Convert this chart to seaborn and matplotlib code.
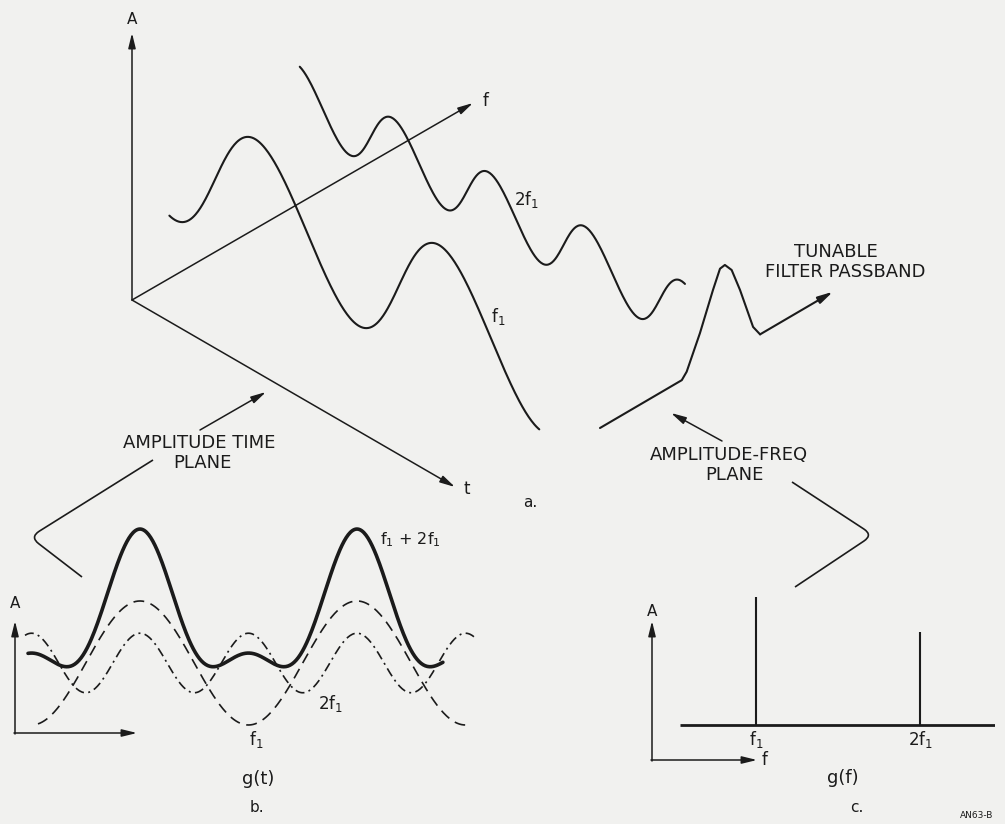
import numpy as np
import pandas as pd
import seaborn as sns
import matplotlib
matplotlib.use('Agg')
import matplotlib.pyplot as plt
from matplotlib.transforms import Affine2D
from matplotlib.path import Path
from matplotlib.patches import PathPatch

sns.set_theme(style='white')
plt.rcParams['font.family'] = ['DejaVu Sans']
plt.rcParams['mathtext.default'] = 'regular'

# signal made of two components, amplitude relative to f1
components = ['f$_1$', '2f$_1$']
harmonics = [1, 2]
amplitudes = [1.0, 0.48]

# spectrum lines of panel c
spec_freq = [1, 2]
spec_amp = [1.0, 0.73]

# tunable filter passband (relative freq, relative gain)
pass_f = [0.0, 0.351, 0.372, 0.429, 0.485, 0.515, 0.536, 0.565, 0.601, 0.657, 0.687, 1.0]
pass_g = [0.0, 0.0, 0.062, 0.405, 0.80, 0.99, 1.0, 0.90, 0.623, 0.128, 0.0, 0.0]

ink = '#1b1b1b'
bg = '#f1f1ef'

fig = plt.figure(figsize=(10.05, 8.24), dpi=100, facecolor=bg)
ax0 = fig.add_axes([0, 0, 1, 1])
ax0.set_xlim(0, 1005)
ax0.set_ylim(824, 0)
ax0.axis('off')

arw = dict(arrowstyle='-|>,head_length=0.9,head_width=0.22', color=ink, lw=1.1,
           shrinkA=0, shrinkB=0, mutation_scale=10)

def arrow(tip, tail, **kw):
    ax0.annotate('', xy=tip, xytext=tail, arrowprops=dict(arw, **kw))

def txt(x, y, s, size=13, **kw):
    ax0.text(x, y, s, fontsize=size, color=ink, ha=kw.pop('ha', 'center'),
             va=kw.pop('va', 'center'), **kw)

# ---- panel a : 3d sketch ----
O = (132, 300)
arrow((132, 33), O)
arrow((473, 103), O)
arrow((455, 487), O)
txt(132, 19, 'A', 11)
txt(486, 101, 'f', 12)
txt(467, 489, 't', 12)

def plane(t_vec, a_vec, anchor):
    return Affine2D().from_values(t_vec[0], t_vec[1], a_vec[0], a_vec[1],
                                  anchor[0], anchor[1]) + ax0.transData

a_vec = (-6, -67)
planes = [plane((184, 106), a_vec, (261, 206)),
          plane((192.6, 108.6), a_vec, (395, 150))]
t_ranges = [(-0.53, 1.48), (-0.48, 1.52)]
for tr, (t0, t1), h, amp in zip(planes, t_ranges, harmonics, amplitudes):
    tt = np.linspace(t0, t1, 400)
    ax0.plot(tt, amp * np.cos(2 * np.pi * h * tt), color=ink, lw=1.5, transform=tr,
             solid_capstyle='round')
txt(491, 316, components[0], 12, ha='left')
txt(514, 199, components[1], 12, ha='left')

# passband in the amplitude-frequency plane
tr_pass = Affine2D().from_values(233, -136.3, 0, -90, 600, 428) + ax0.transData
ax0.plot(pass_f[:-1], pass_g[:-1], color=ink, lw=1.5, transform=tr_pass,
         solid_joinstyle='round')
ax0.annotate('', xy=(pass_f[-1], pass_g[-1]), xytext=(pass_f[-2], pass_g[-2]),
             xycoords=tr_pass, textcoords=tr_pass, arrowprops=dict(arw, lw=1.5))
txt(836, 252, 'TUNABLE')
txt(845, 272, 'FILTER PASSBAND')

txt(199, 443, 'AMPLITUDE TIME')
txt(202, 463, 'PLANE')
arrow((266, 392), (200, 430))
txt(729, 455, 'AMPLITUDE-FREQ')
txt(734, 475, 'PLANE')
arrow((671, 413), (722, 441))
txt(530, 502, 'a.', 11)

def bracket(p0, v, p1, r=11):
    p0, v, p1 = map(np.array, (p0, v, p1))
    a = v + (p0 - v) / np.linalg.norm(p0 - v) * r
    b = v + (p1 - v) / np.linalg.norm(p1 - v) * r
    path = Path([p0, a, v, b, p1],
                [Path.MOVETO, Path.LINETO, Path.CURVE3, Path.CURVE3, Path.LINETO])
    ax0.add_patch(PathPatch(path, fill=False, ec=ink, lw=1.2))

bracket((153, 460), (30, 537), (82, 577))
bracket((792, 482), (873, 535), (795, 587))

# ---- panel b : time domain ----
axb = fig.add_axes([15 / 1005, 1 - 740 / 824, 465 / 1005, 220 / 824])
axb.axis('off')

t_f1 = np.linspace(-0.47, 1.507, 400)
t_2f1 = np.linspace(-0.53, 1.553, 400)
t_sum = np.linspace(-0.516, 1.396, 400)
df_f1 = pd.DataFrame({'t': t_f1, 'A': amplitudes[0] * np.cos(2 * np.pi * harmonics[0] * t_f1)})
df_2f1 = pd.DataFrame({'t': t_2f1, 'A': amplitudes[1] * np.cos(2 * np.pi * harmonics[1] * t_2f1)})
df_sum = pd.DataFrame({'t': t_sum,
                       'A': 0.68 + amplitudes[0] * np.cos(2 * np.pi * harmonics[0] * t_sum)
                       + amplitudes[1] * np.cos(2 * np.pi * harmonics[1] * t_sum)})

sns.lineplot(data=df_f1, x='t', y='A', ax=axb, color=ink, lw=1.2, linestyle=(0, (6.5, 4)))
sns.lineplot(data=df_2f1, x='t', y='A', ax=axb, color=ink, lw=1.2,
             linestyle=(0, (5.5, 2.6, 1.2, 2.6)))
sns.lineplot(data=df_sum, x='t', y='A', ax=axb, color=ink, lw=2.6)
axb.set_xlim(-0.576, 1.567)
axb.set_ylim(-1.242, 2.306)

arrow((15, 621), (15, 734))
arrow((137, 733), (14, 733))
txt(15, 604, 'A', 11)
txt(380, 540, 'f$_1$ + 2f$_1$', 11.5, ha='left')
txt(318, 703, components[1], 12, ha='left')
txt(256, 739, components[0], 12)
txt(258, 779, 'g(t)', 13)
txt(257, 808, 'b.', 11)

# ---- panel c : frequency domain ----
axc = fig.add_axes([652 / 1005, 1 - 760 / 824, 343 / 1005, 170 / 824])
axc.set_xlim(0.366, 2.457)
axc.set_ylim(-0.273, 1.055)
axc.axis('off')
axc.vlines(spec_freq, 0, spec_amp, color=ink, lw=1.5)
axc.hlines(0, 0.537, 2.457, color=ink, lw=2.0)
for f, lbl in zip(spec_freq, components):
    axc.annotate(lbl, (f, 0), xytext=(0, -2.5), textcoords='offset points',
                 ha='center', va='top', fontsize=12, color=ink)

arrow((652, 621), (652, 761))
arrow((757, 760), (651, 760))
txt(652, 612, 'A', 11)
txt(765, 760, 'f', 12)
txt(843, 778, 'g(f)', 13)
txt(857, 807, 'c.', 11)
txt(977, 816, 'AN63-B', 6.5)

fig.savefig('out.png', dpi=100, facecolor=bg)
